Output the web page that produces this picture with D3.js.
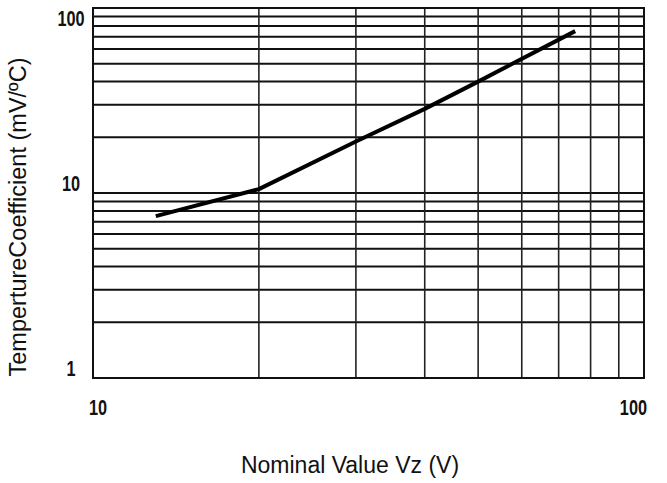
<!DOCTYPE html>
<html>
<head>
<meta charset="utf-8">
<script src="https://cdn.jsdelivr.net/npm/d3@7"></script>
<style>
  html, body { margin: 0; padding: 0; background: #fff; }
  svg { display: block; }
</style>
</head>
<body>
<svg id="chart" width="667" height="483"></svg>
<script>
// ---- data ----
const xDomain = [10, 100];
const yDomain = [1, 100];
const xGridValues = [10, 20, 30, 40, 50, 60, 70, 80, 90, 100];
const yGridValues = [1, 2, 3, 4, 5, 6, 7, 8, 9, 10, 20, 30, 40, 50, 60, 70, 80, 90, 100];
const xTickLabels = [10, 100];
const yTickLabels = [1, 10, 100];
const vz = [13, 20, 30, 40, 50, 75];
const tempCoeff = [7.5, 10.5, 19, 28.5, 40, 75];
const xTitle = "Nominal Value Vz (V)";
const yTitle = "TempertureCoefficient (mV/ºC)";

// ---- layout ----
const plotLeft = 93, plotRight = 644, plotTop = 8, plotBottom = 378;
const svg = d3.select("#chart");

const x = d3.scaleLog().domain(xDomain).range([plotLeft, plotRight]);
const y = d3.scaleLog().domain(yDomain).range([plotBottom, plotTop]);

// horizontal grid
svg.append("g").selectAll("line").data(yGridValues).join("line")
  .attr("x1", plotLeft).attr("x2", plotRight)
  .attr("y1", d => y(d)).attr("y2", d => y(d))
  .attr("stroke", "#111").attr("stroke-width", 2);

// vertical grid
svg.append("g").selectAll("line").data(xGridValues).join("line")
  .attr("x1", d => x(d)).attr("x2", d => x(d))
  .attr("y1", plotTop).attr("y2", plotBottom)
  .attr("stroke", "#222").attr("stroke-width", 1.6);

// border
svg.append("rect")
  .attr("x", plotLeft).attr("y", plotTop)
  .attr("width", plotRight - plotLeft).attr("height", plotBottom - plotTop)
  .attr("fill", "none").attr("stroke", "#111").attr("stroke-width", 2);

// data line
const pts = vz.map((v, i) => [v, tempCoeff[i]]);
svg.append("path")
  .datum(pts)
  .attr("d", d3.line().x(d => x(d[0])).y(d => y(d[1])))
  .attr("fill", "none").attr("stroke", "#000").attr("stroke-width", 4)
  .attr("stroke-linejoin", "round");

// tick labels (condensed bold)
const tickFont = "'Liberation Sans', Arial, sans-serif";
const squeeze = 0.74;
svg.append("g").selectAll("text").data(yTickLabels).join("text")
  .attr("transform", d => `translate(71,${Math.max(y(d) - 10, plotTop + 10)}) scale(${squeeze},1)`)
  .attr("text-anchor", "middle")
  .attr("dominant-baseline", "central")
  .attr("font-family", tickFont).attr("font-weight", "bold").attr("font-size", 22)
  .attr("fill", "#111")
  .text(d => d);

svg.append("g").selectAll("text").data(xTickLabels).join("text")
  .attr("transform", (d, i) => `translate(${i === 0 ? x(d) - 4 : x(d) + 3},407) scale(${squeeze},1)`)
  .attr("text-anchor", (d, i) => i === 0 ? "start" : "end")
  .attr("dominant-baseline", "central")
  .attr("font-family", tickFont).attr("font-weight", "bold").attr("font-size", 22)
  .attr("fill", "#111")
  .text(d => d);

// axis titles
svg.append("text")
  .attr("x", 350).attr("y", 473)
  .attr("text-anchor", "middle")
  .attr("font-family", "'Liberation Sans', Arial, sans-serif").attr("font-size", 23)
  .attr("fill", "#111")
  .text(xTitle);

svg.append("text")
  .attr("transform", "translate(26,217) rotate(-90)")
  .attr("text-anchor", "middle")
  .attr("font-family", "'Liberation Sans', Arial, sans-serif").attr("font-size", 23.5)
  .attr("fill", "#111")
  .text(yTitle);
</script>
</body>
</html>
